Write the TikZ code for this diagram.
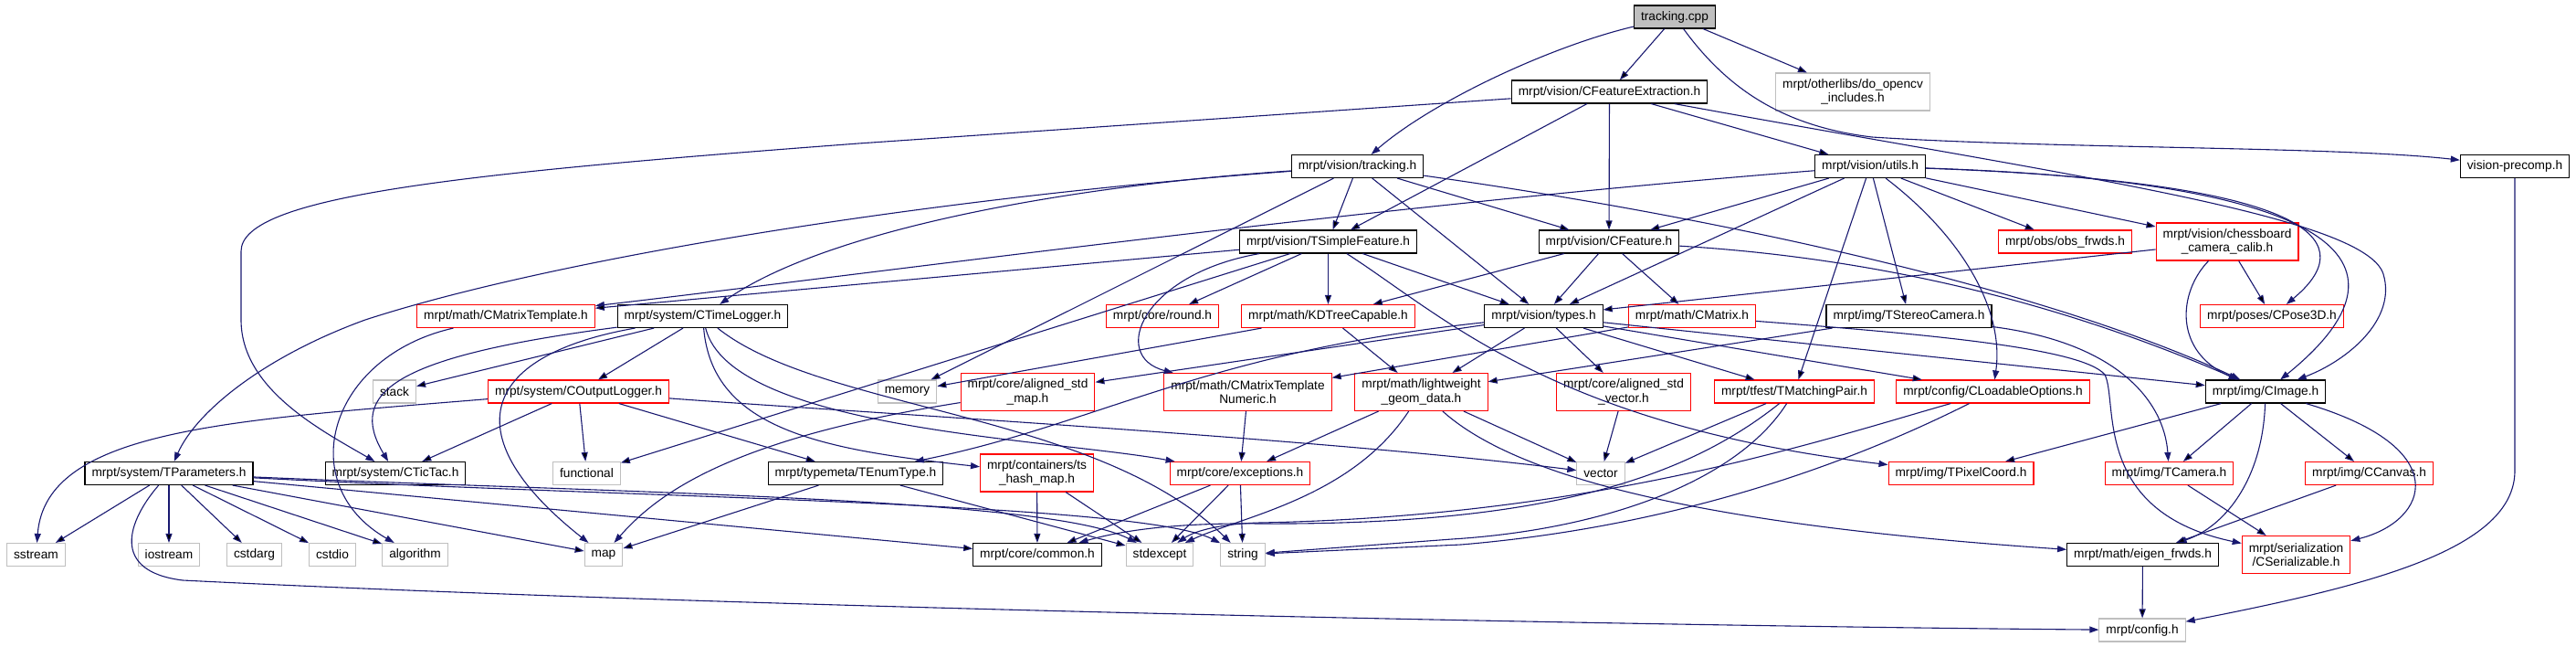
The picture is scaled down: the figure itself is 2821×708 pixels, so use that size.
\documentclass[tikz,border=0pt]{standalone}
\usepackage{fontspec}
\setmainfont{Liberation Sans}
\usepackage{tikz}
\usetikzlibrary{arrows.meta}
\definecolor{depblue}{RGB}{25,25,112}
\definecolor{nodegray}{RGB}{191,191,191}

\begin{document}
\begin{tikzpicture}[x=1pt,y=-1pt,
		font={\fontsize{13.7}{15.5}\selectfont},
		hdr/.style={draw=black, line width=1.1pt, fill=white, minimum height=25pt, inner xsep=7.5pt, inner ysep=2pt},
		trunc/.style={hdr, draw=red},
		sys/.style={hdr, draw=nodegray},
		root/.style={hdr, fill=nodegray},
		two/.style={align=center, minimum height=41pt},
		dep/.style={draw=depblue, line width=1.1pt, -{Triangle[length=10pt,width=7pt]}}]
		\useasboundingbox (0,0) rectangle (2821,708);

		\node[root] (cpp) at (1834,18.5) {tracking.cpp};
		\node[hdr] (cfe) at (1762.5,100.5) {mrpt/vision/CFeatureExtraction.h};
		\node[sys,two] (ocv) at (2029,100.5) {mrpt/otherlibs/do\_opencv\\\_includes.h};
		\node[hdr] (trk) at (1486.5,182) {mrpt/vision/tracking.h};
		\node[hdr] (utl) at (2048,182) {mrpt/vision/utils.h};
		\node[hdr] (pch) at (2754,182) {vision-precomp.h};
		\node[hdr] (tsf) at (1454.5,264.5) {mrpt/vision/TSimpleFeature.h};
		\node[hdr] (cft) at (1762,264.5) {mrpt/vision/CFeature.h};
		\node[trunc] (obs) at (2261.5,264.5) {mrpt/obs/obs\_frwds.h};
		\node[trunc,two] (chb) at (2439,264.5) {mrpt/vision/chessboard\\\_camera\_calib.h};
		\node[trunc] (cmt) at (554,346) {mrpt/math/CMatrixTemplate.h};
		\node[hdr] (tlg) at (769.5,346) {mrpt/system/CTimeLogger.h};
		\node[trunc] (rnd) at (1273,346) {mrpt/core/round.h};
		\node[trunc] (kdt) at (1454.5,346) {mrpt/math/KDTreeCapable.h};
		\node[hdr] (typ) at (1690.5,346) {mrpt/vision/types.h};
		\node[trunc] (cmx) at (1853,346) {mrpt/math/CMatrix.h};
		\node[hdr] (tsc) at (2090.5,346) {mrpt/img/TStereoCamera.h};
		\node[trunc] (cp3) at (2488,346) {mrpt/poses/CPose3D.h};
		\node[sys] (stk) at (432,428.5) {stack};
		\node[trunc] (olg) at (633.5,428.5) {mrpt/system/COutputLogger.h};
		\node[sys] (mem) at (993.5,428.5) {memory};
		\node[trunc,two] (asm) at (1125.5,429) {mrpt/core/aligned\_std\\\_map.h};
		\node[trunc,two] (ctn) at (1366.5,429) {mrpt/math/CMatrixTemplate\\Numeric.h};
		\node[trunc,two] (lwg) at (1556.5,429) {mrpt/math/lightweight\\\_geom\_data.h};
		\node[trunc,two] (asv) at (1778,429) {mrpt/core/aligned\_std\\\_vector.h};
		\node[trunc] (tmp) at (1965,428.5) {mrpt/tfest/TMatchingPair.h};
		\node[trunc] (clo) at (2182.5,428.5) {mrpt/config/CLoadableOptions.h};
		\node[hdr] (img) at (2481,428.5) {mrpt/img/CImage.h};
		\node[hdr] (tpr) at (185,518) {mrpt/system/TParameters.h};
		\node[hdr] (ttc) at (433,518) {mrpt/system/CTicTac.h};
		\node[sys] (fnc) at (642.5,518) {functional};
		\node[hdr] (ten) at (937,518) {mrpt/typemeta/TEnumType.h};
		\node[trunc,two] (hsm) at (1135.5,517.5) {mrpt/containers/ts\\\_hash\_map.h};
		\node[trunc] (exc) at (1358,518) {mrpt/core/exceptions.h};
		\node[sys] (vec) at (1753,518) {vector};
		\node[trunc] (tpc) at (2147.5,518) {mrpt/img/TPixelCoord.h};
		\node[trunc] (tcm) at (2375.5,518) {mrpt/img/TCamera.h};
		\node[trunc] (cnv) at (2594.5,518) {mrpt/img/CCanvas.h};
		\node[sys] (sst) at (39.5,607) {sstream};
		\node[sys] (ios) at (185,607) {iostream};
		\node[sys] (csa) at (278.5,607) {cstdarg};
		\node[sys] (csi) at (364,607) {cstdio};
		\node[sys] (alg) at (454.5,607) {algorithm};
		\node[sys] (map) at (661,607) {map};
		\node[hdr] (cmn) at (1136,607) {mrpt/core/common.h};
		\node[sys] (sex) at (1270,607) {stdexcept};
		\node[sys] (str) at (1361,607) {string};
		\node[hdr] (eig) at (2346.5,607) {mrpt/math/eigen\_frwds.h};
		\node[trunc,two] (ser) at (2514.5,607) {mrpt/serialization\\/CSerializable.h};
		\node[sys] (cfg) at (2346,689.5) {mrpt/config.h};

		\draw[dep] (cpp) .. controls (1700,50) and (1570,110) .. (trk);
		\draw[dep]	(cpp) edge (cfe)
				(cpp) edge (ocv);
		\draw[dep] (cpp) .. controls (1890,95) and (1950,138) .. (2050,150) .. controls (2250,163) and (2560,160) .. (pch);

		\draw[dep] (cfe) -- (940,157) .. controls (500,190) and (264,215) .. (264,275) -- (264,350) .. controls (264,425) and (350,470) .. (ttc);
		\draw[dep]	(cfe) edge (tsf)
				(cfe) edge (cft)
				(cfe) edge (utl);
		\draw[dep] (cfe) .. controls (2250,190) and (2590,235) .. (2610,300) .. controls (2625,350) and (2570,395) .. (img);

		\draw[dep] (trk) .. controls (1000,218) and (600,285) .. (400,350) .. controls (290,390) and (215,450) .. (tpr);
		\draw[dep] (trk) .. controls (1150,205) and (900,255) .. (tlg);
		\draw[dep]	(trk) edge (mem)
				(trk) edge (tsf)
				(trk) edge (typ)
				(trk) edge (cft);
		\draw[dep] (trk) .. controls (1900,240) and (2250,320) .. (img);

		\draw[dep] (utl) .. controls (1500,225) and (950,300) .. (cmt);
		\draw[dep]	(utl) edge (cft)
				(utl) edge (typ)
				(utl) edge (tmp)
				(utl) edge (tsc)
				(utl) edge (obs)
				(utl) edge (chb);
		\draw[dep] (utl) .. controls (2150,260) and (2195,340) .. (clo);
		\draw[dep] (utl) .. controls (2560,200) and (2580,270) .. (cp3);
		\draw[dep] (utl) .. controls (2600,200) and (2640,300) .. (img);

		\draw[dep]	(tsf) edge (cmt)
				(tsf) edge (fnc)
				(tsf) edge (rnd)
				(tsf) edge (kdt)
				(tsf) edge (typ);
		\draw[dep] (tsf) .. controls (1250,300) and (1215,390) .. (ctn);
		\draw[dep] (tsf) .. controls (1580,345) and (1700,465) .. (tpc);

		\draw[dep]	(cft) edge (kdt)
				(cft) edge (typ)
				(cft) edge (cmx);
		\draw[dep] (cft) .. controls (2100,285) and (2300,350) .. (img);

		\draw[dep]	(chb) edge (typ)
				(chb) edge (cp3);
		\draw[dep] (chb) .. controls (2385,320) and (2380,385) .. (img);

		\draw[dep]	(typ) edge (asm)
				(typ) edge (lwg)
				(typ) edge (asv)
				(typ) edge (tmp)
				(typ) edge (clo)
				(typ) edge (img);
		\draw[dep] (typ) .. controls (1320,385) and (1200,465) .. (ten);

		\draw[dep] (cmx) edge (ctn);
		\draw[dep] (cmx) .. controls (2100,365) and (2280,380) .. (2305,410) .. controls (2320,440) and (2290,560) .. (ser);
		\draw[dep] (tsc) edge (lwg);
		\draw[dep] (tsc) .. controls (2320,375) and (2370,440) .. (tcm);
		\draw[dep]	(kdt) edge (mem)
				(kdt) edge (lwg);

		\draw[dep]	(tlg) edge (stk)
				(tlg) edge (olg);
		\draw[dep] (tlg) .. controls (430,390) and (380,430) .. (ttc);
		\draw[dep] (tlg) .. controls (520,390) and (500,480) .. (map);
		\draw[dep] (tlg) .. controls (780,470) and (900,492) .. (hsm);
		\draw[dep] (tlg) .. controls (800,470) and (1150,480) .. (exc);
		\draw[dep] (tlg) .. controls (900,450) and (1200,450) .. (str);

		\draw[dep] (olg) .. controls (250,460) and (50,470) .. (sst);
		\draw[dep]	(olg) edge (ttc)
				(olg) edge (fnc)
				(olg) edge (ten);
		\draw[dep] (olg) .. controls (950,452) and (1450,480) .. (vec);

		\draw[dep] (cmt) .. controls (360,390) and (320,530) .. (alg);

		\draw[dep]	(tpr) edge (sst)
				(tpr) edge (ios)
				(tpr) edge (csa)
				(tpr) edge (csi)
				(tpr) edge (alg)
				(tpr) edge (map)
				(tpr) edge (cmn);
		\draw[dep] (tpr) .. controls (700,540) and (1150,545) .. (sex);
		\draw[dep] (tpr) .. controls (700,545) and (1250,550) .. (str);
		\draw[dep] (tpr) .. controls (140,570) and (120,625) .. (200,635) .. controls (800,665) and (1800,685) .. (cfg);

		\draw[dep]	(ten) edge (map)
				(ten) edge (sex);
		\draw[dep] (asm) .. controls (800,480) and (720,540) .. (map);
		\draw[dep] (ctn) edge (exc);
		\draw[dep]	(lwg) edge (exc)
				(lwg) edge (vec);
		\draw[dep] (lwg) .. controls (1480,545) and (1360,565) .. (sex);
		\draw[dep] (lwg) .. controls (1680,540) and (1950,580) .. (eig);
		\draw[dep] (asv) edge (vec);

		\draw[dep]	(hsm) edge (cmn)
				(hsm) edge (sex);
		\draw[dep]	(exc) edge (cmn)
				(exc) edge (sex)
				(exc) edge (str);

		\draw[dep] (tmp) edge (vec);
		\draw[dep] (tmp) .. controls (1850,520) and (1700,575) .. (1380,573) .. controls (1290,572) and (1230,580) .. (cmn);
		\draw[dep] (tmp) .. controls (1900,530) and (1750,580) .. (1590,590) -- (str);
		\draw[dep] (clo) .. controls (2000,480) and (1750,565) .. (1380,572) .. controls (1340,573) and (1310,580) .. (sex);
		\draw[dep] (clo) .. controls (2040,500) and (1850,575) .. (1600,596) -- (str);

		\draw[dep]	(img) edge (tpc)
				(img) edge (tcm)
				(img) edge (cnv);
		\draw[dep] (img) .. controls (2478,520) and (2440,575) .. (eig);
		\draw[dep] (img) .. controls (2690,490) and (2660,570) .. (ser);

		\draw[dep]	(tcm) edge (ser)
				(cnv) edge (eig)
				(eig) edge (cfg);
		\draw[dep] (pch) -- (2754,515) .. controls (2754,600) and (2600,640) .. (cfg);
	\end{tikzpicture}
\end{document}
